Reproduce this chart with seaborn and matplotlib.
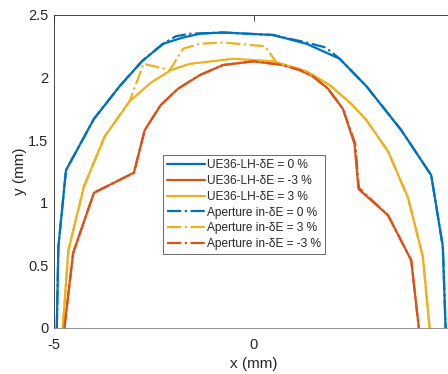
import numpy as np
import pandas as pd
import matplotlib
matplotlib.use("Agg")
import matplotlib.pyplot as plt
import seaborn as sns
from matplotlib.ticker import FormatStrFormatter

sns.set_style("white")
plt.rcParams["font.family"] = ["Liberation Sans", "DejaVu Sans"]

# ---------------------------------------------------------------
# data (x, y in mm)
# ---------------------------------------------------------------
x_ue_0 = [-4.93, -4.89, -4.70, -4.00, -3.36, -2.80, -2.27, -1.77, -1.35, -0.77,
          0.48, 1.32, 2.15, 2.82, 3.69, 4.44, 4.73, 4.80]
y_ue_0 = [0.00, 0.65, 1.26, 1.67, 1.93, 2.13, 2.27, 2.32, 2.35, 2.36,
          2.34, 2.27, 2.15, 1.93, 1.58, 1.22, 0.65, 0.00]

x_ue_m3 = [-4.74, -4.52, -4.00, -3.00, -2.73, -2.33, -1.90, -1.35, -0.77, 0.00,
           0.73, 1.15, 1.48, 1.86, 2.23, 2.52, 2.62, 3.36, 3.94, 4.13]
y_ue_m3 = [0.00, 0.60, 1.08, 1.24, 1.58, 1.78, 1.91, 2.02, 2.10, 2.13,
           2.10, 2.06, 2.01, 1.91, 1.75, 1.47, 1.11, 0.90, 0.54, 0.00]

x_ue_p3 = [-4.78, -4.64, -4.25, -3.73, -3.11, -2.57, -2.07, -1.60, -0.52, 0.48,
           1.32, 1.90, 2.44, 2.82, 3.36, 3.86, 4.23, 4.40]
y_ue_p3 = [0.00, 0.62, 1.13, 1.53, 1.81, 1.96, 2.06, 2.11, 2.15, 2.13,
           2.05, 1.94, 1.79, 1.66, 1.41, 1.04, 0.57, 0.00]

x_ap_0 = [-4.93, -4.89, -4.70, -4.00, -3.36, -2.80, -2.27, -1.95, -1.60, -0.77,
          0.48, 1.32, 1.80, 2.15, 2.82, 3.69, 4.44, 4.73, 4.80]
y_ap_0 = [0.00, 0.65, 1.26, 1.67, 1.93, 2.13, 2.27, 2.33, 2.35, 2.36,
          2.34, 2.28, 2.24, 2.15, 1.93, 1.58, 1.22, 0.65, 0.00]

x_ap_p3 = [-4.78, -4.64, -4.25, -3.73, -3.11, -2.76, -2.10, -1.77, -1.35, -0.77,
           0.28, 0.57, 1.32, 1.90, 2.44, 2.82, 3.36, 3.86, 4.23, 4.40]
y_ap_p3 = [0.00, 0.62, 1.13, 1.53, 1.81, 2.11, 2.06, 2.23, 2.27, 2.28,
           2.25, 2.12, 2.05, 1.94, 1.79, 1.66, 1.41, 1.04, 0.57, 0.00]

x_ap_m3 = [-4.74, -4.52, -4.00, -3.00, -2.73, -2.33, -1.90, -1.35, -0.77, 0.00,
           0.73, 1.15, 1.48, 1.86, 2.23, 2.54, 2.63, 3.36, 3.94, 4.13]
y_ap_m3 = [0.00, 0.60, 1.08, 1.24, 1.58, 1.78, 1.91, 2.02, 2.10, 2.13,
           2.10, 2.06, 2.01, 1.91, 1.75, 1.47, 1.12, 0.90, 0.54, 0.00]

x_ticks = [-5, 0]
y_ticks = [0, 0.5, 1, 1.5, 2, 2.5]

BLUE, RED, YELLOW = "#0072BD", "#D95319", "#EDB120"
series = [
    ("UE36-LH-δE = 0 %", x_ue_0, y_ue_0, BLUE, "-"),
    ("UE36-LH-δE = -3 %", x_ue_m3, y_ue_m3, RED, "-"),
    ("UE36-LH-δE = 3 %", x_ue_p3, y_ue_p3, YELLOW, "-"),
    ("Aperture in-δE = 0 %", x_ap_0, y_ap_0, BLUE, "-."),
    ("Aperture in-δE = 3 %", x_ap_p3, y_ap_p3, YELLOW, "-."),
    ("Aperture in-δE = -3 %", x_ap_m3, y_ap_m3, RED, "-."),
]

# ---------------------------------------------------------------
# plot
# ---------------------------------------------------------------
fig = plt.figure(figsize=(4.48, 3.74), dpi=100)
ax = fig.add_axes([0.1205, 0.123, 0.892, 0.837])

for label, xs, ys, col, ls in series:
    d = pd.DataFrame({"x": xs, "y": ys})
    sns.lineplot(data=d, x="x", y="y", sort=False, estimator=None, ax=ax,
                 color=col, linestyle=ls, linewidth=1.6, label=label)

ax.set_xlim(-5, 5)
ax.set_ylim(0, 2.5)
ax.set_xticks(x_ticks)
ax.set_yticks(y_ticks)
ax.yaxis.set_major_formatter(FormatStrFormatter("%g"))
ax.xaxis.set_major_formatter(FormatStrFormatter("%g"))
ax.tick_params(direction="in", length=4, width=0.6, colors="#262626",
               labelsize=10.5, top=True, right=True)
ax.tick_params(axis="x", pad=7)
ax.tick_params(axis="y", pad=4)
for s in ax.spines.values():
    s.set_color("#262626")
    s.set_linewidth(0.6)
ax.spines["bottom"].set_color("#808080")

ax.set_xlabel("x (mm)", fontsize=11, color="#262626", labelpad=4)
ax.set_ylabel("y (mm)", fontsize=11, color="#262626", labelpad=1)

leg = ax.legend(loc="upper left", bbox_to_anchor=(0.273, 0.553), borderaxespad=0,
                fontsize=8.6, handlelength=3.2, handletextpad=0.15, labelspacing=0.32,
                borderpad=0.35, frameon=True, fancybox=False)
leg.get_frame().set_edgecolor("#262626")
leg.get_frame().set_linewidth(0.6)

plt.savefig("out.png", dpi=100)
plt.close()
